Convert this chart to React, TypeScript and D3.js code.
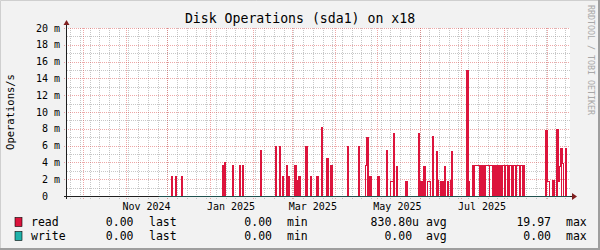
import React from "react";
import * as d3 from "d3";

const titleText = "Disk Operations (sda1) on x18";
const yAxisTitle = "Operations/s";
const watermark = "RRDTOOL / TOBI OETIKER";

const viewStart = "2024-09-19T16:00:00Z";
const viewEnd = "2025-09-17T12:00:00Z";
const writeStart = "2024-11-25T00:00:00Z";

const yTicks = [0, 2, 4, 6, 8, 10, 12, 14, 16, 18, 20];
const yTickLabels = ["0  ", "2 m", "4 m", "6 m", "8 m", "10 m", "12 m", "14 m", "16 m", "18 m", "20 m"];
const yMinorTicks = [1, 3, 5, 7, 9, 11, 13, 15, 17, 19];

const xTickMonths = ["2024-11-01", "2025-01-01", "2025-03-01", "2025-05-01", "2025-07-01"];
const xTickLabels = ["Nov 2024", "Jan 2025", "Mar 2025", "May 2025", "Jul 2025"];

// read operations per day, in milli-ops/s (avg = filled area, max = outline)
const readDays = [
  "2024-12-04", "2024-12-07", "2024-12-11",
  "2025-01-10", "2025-01-11", "2025-01-17", "2025-01-22", "2025-01-24",
  "2025-02-06", "2025-02-17", "2025-02-20", "2025-02-22", "2025-02-25", "2025-02-26",
  "2025-03-03", "2025-03-04", "2025-03-06", "2025-03-11", "2025-03-14", "2025-03-19",
  "2025-03-22", "2025-03-26", "2025-03-29",
  "2025-04-10", "2025-04-18", "2025-04-23", "2025-04-24", "2025-04-26",
  "2025-05-02", "2025-05-08", "2025-05-11", "2025-05-12", "2025-05-13", "2025-05-15",
  "2025-05-22", "2025-05-31",
  "2025-06-02", "2025-06-04", "2025-06-07", "2025-06-08", "2025-06-10", "2025-06-13",
  "2025-06-14", "2025-06-16", "2025-06-17", "2025-06-18", "2025-06-19", "2025-06-21",
  "2025-06-23", "2025-06-24",
  "2025-07-05", "2025-07-06",
  "2025-07-09", "2025-07-10", "2025-07-11", "2025-07-12", "2025-07-13", "2025-07-14",
  "2025-07-15", "2025-07-16", "2025-07-17", "2025-07-18", "2025-07-19", "2025-07-20",
  "2025-07-21", "2025-07-22", "2025-07-23", "2025-07-24", "2025-07-25", "2025-07-26",
  "2025-07-27", "2025-07-28", "2025-07-29", "2025-07-30", "2025-07-31",
  "2025-08-01", "2025-08-02", "2025-08-03", "2025-08-04", "2025-08-05", "2025-08-06",
  "2025-08-07", "2025-08-08", "2025-08-09", "2025-08-10", "2025-08-11", "2025-08-12",
  "2025-08-13", "2025-08-14", "2025-08-15",
  "2025-08-31", "2025-09-01", "2025-09-02", "2025-09-05", "2025-09-08", "2025-09-09",
  "2025-09-10", "2025-09-11", "2025-09-12", "2025-09-14",
];
const readAvg = [
  2.3, 2.3, 2.3,
  3.6, 4.0, 3.6, 3.6, 3.6,
  5.4, 5.85, 5.85, 2.3, 3.6, 2.3,
  3.6, 1.8, 2.3, 5.85, 2.3, 2.3,
  8.2, 4.5, 3.6,
  5.85, 5.85, 0, 7.0, 2.3,
  2.3, 5.4, 0, 0, 7.5, 3.46,
  1.67, 7.5,
  1.67, 3.46, 0, 0, 7.04, 5.25,
  1.8, 1.67, 1.67, 1.67, 3.46, 1.67,
  0, 5.25,
  15.0, 1.67,
  3.58, 3.58, 0, 0, 0, 3.58,
  3.58, 3.58, 3.58, 3.58, 0, 0,
  3.58, 0, 3.58, 3.58, 3.58, 3.58,
  3.58, 3.58, 3.58, 3.58, 0,
  3.58, 0, 3.58, 3.58, 0, 3.58,
  3.58, 0, 3.58, 0, 0, 3.58,
  0, 3.58, 3.58,
  7.76, 0, 0, 1.8, 7.9, 0,
  0, 5.6, 0, 5.6,
];
const readMax = [
  2.3, 2.3, 2.3,
  3.6, 4.0, 3.6, 3.6, 3.6,
  5.4, 5.85, 5.85, 2.3, 3.6, 2.3,
  3.6, 1.8, 2.3, 5.85, 2.3, 2.3,
  8.2, 4.5, 3.6,
  5.85, 5.85, 3.6, 7.0, 2.3,
  2.3, 5.4, 1.67, 1.67, 7.5, 3.46,
  1.67, 7.5,
  1.67, 3.46, 1.67, 1.67, 7.04, 5.25,
  1.8, 1.67, 1.67, 1.67, 3.46, 1.67,
  1.8, 5.25,
  15.0, 1.67,
  3.58, 3.58, 3.58, 3.58, 3.58, 3.58,
  3.58, 3.58, 3.58, 3.58, 3.58, 3.58,
  3.58, 3.58, 3.58, 3.58, 3.58, 3.58,
  3.58, 3.58, 3.58, 3.58, 3.58,
  3.58, 3.58, 3.58, 3.58, 3.58, 3.58,
  3.58, 3.58, 3.58, 3.58, 3.58, 3.58,
  3.58, 3.58, 3.58,
  7.76, 1.67, 1.67, 1.8, 7.9, 1.67,
  3.46, 5.6, 3.9, 5.6,
];

const legendNames = ["read", "write"];
const legendColors = ["#DC143C", "#20B2AA"];
const legendLast = ["0.00", "0.00"];
const legendMin = ["0.00", "0.00"];
const legendAvg = ["830.80u", "0.00 "];
const legendMax = ["19.97", "0.00"];

const FONT = "'DejaVu Sans Mono', monospace";

export default function App() {
  const left = 67, right = 570, top = 28, bottom = 196;
  const x = d3.scaleUtc().domain([new Date(viewStart), new Date(viewEnd)]).range([left, right]);
  const y = d3.scaleLinear().domain([0, 20]).range([bottom, top]);
  const day = (s: string) => new Date(s + "T00:00:00Z");

  const minorWeeks = d3.utcSunday.range(new Date(viewStart), new Date(viewEnd));
  const months = d3.utcMonth.range(new Date(viewStart), new Date(viewEnd));

  const maxMap = new Map<number, number>();
  readDays.forEach((d, i) => maxMap.set(+day(d), readMax[i]));
  const first = day(readDays[0]);
  const last = d3.utcDay.offset(day(readDays[readDays.length - 1]), 1);
  const allDays = d3.utcDay.range(d3.utcDay.offset(first, -1), d3.utcDay.offset(last, 1));
  const series = allDays.map((d) => ({ d, v: maxMap.get(+d) ?? 0 }));
  const line = d3
    .line<{ d: Date; v: number }>()
    .x((p) => x(p.d))
    .y((p) => y(p.v))
    .curve(d3.curveStepAfter);

  const legendY = [226, 240];
  const crisp = (v: number) => Math.round(v) + 0.5;
  const ws = x(new Date(writeStart));

  return (
    <svg
      width={600}
      height={250}
      style={{ position: "absolute", left: 0, top: 0, display: "block" }}
      fontFamily={FONT}
    >
      <rect x={0} y={0} width={600} height={250} fill="#F2F2F2" />
      <path d="M0.5,249 V0.5 H599" stroke="#CFCFCF" strokeWidth={1} fill="none" />
      <path d="M599,0 V250 M0,249 H600" stroke="#9E9E9E" strokeWidth={2} fill="none" />
      <rect x={left} y={top} width={right - left} height={bottom - top} fill="#FFFFFF" />

      {/* minor grid */}
      <g stroke="#8F8F8F" strokeOpacity={0.5} strokeDasharray="1,1" shapeRendering="crispEdges">
        {yMinorTicks.map((v) => (
          <line key={"hy" + v} x1={left} x2={right} y1={crisp(y(v))} y2={crisp(y(v))} />
        ))}
        {minorWeeks.map((d) => (
          <line key={"vx" + +d} x1={crisp(x(d))} x2={crisp(x(d))} y1={top} y2={bottom + 3} />
        ))}
      </g>
      {/* major grid */}
      <g stroke="#DE4F4F" strokeOpacity={0.5} strokeDasharray="1,1" shapeRendering="crispEdges">
        {yTicks.map((v) => (
          <line key={"my" + v} x1={left - 3} x2={right} y1={crisp(y(v))} y2={crisp(y(v))} />
        ))}
        {months.map((d) => (
          <line key={"mx" + +d} x1={crisp(x(d))} x2={crisp(x(d))} y1={top} y2={bottom + 3} />
        ))}
      </g>

      {/* read: filled average */}
      <g fill={legendColors[0]} shapeRendering="crispEdges">
        {readDays.map((d, i) =>
          readAvg[i] > 0 ? (
            <rect
              key={"r" + d}
              x={x(day(d))}
              y={y(readAvg[i])}
              width={x(d3.utcDay.offset(day(d), 1)) - x(day(d))}
              height={y(0) - y(readAvg[i])}
            />
          ) : null
        )}
      </g>
      {/* read: outline of max */}
      <path d={line(series) || ""} fill="none" stroke={legendColors[0]} strokeWidth={1} shapeRendering="crispEdges" />

      {/* write line at zero (drawn over the axis) */}
      <line x1={ws} x2={right} y1={bottom + 0.5} y2={bottom + 0.5} stroke="#1F1F1F" />
      <line x1={ws} x2={right} y1={bottom + 0.5} y2={bottom + 0.5} stroke={legendColors[1]} strokeOpacity={0.35} />

      {/* axes */}
      <line x1={left - 3} x2={ws} y1={bottom + 0.5} y2={bottom + 0.5} stroke="#1F1F1F" />
      <line x1={right} x2={573} y1={bottom + 0.5} y2={bottom + 0.5} stroke="#1F1F1F" />
      <line x1={left - 0.5} x2={left - 0.5} y1={bottom + 3} y2={23} stroke="#1F1F1F" />
      <polygon points={`572,193 577,196.5 572,200`} fill="#801F1F" />
      <polygon points={`63.5,25 66.5,20 69.5,25`} fill="#801F1F" />

      {/* y tick labels */}
      <g fontSize={10} fill="#000" textAnchor="end">
        {yTicks.map((v, i) => (
          <text key={"yl" + v} x={60} y={y(v) + 3.6} style={{ whiteSpace: "pre" }}>
            {yTickLabels[i]}
          </text>
        ))}
      </g>
      {/* x tick labels */}
      <g fontSize={10} fill="#000" textAnchor="middle">
        {xTickMonths.map((m, i) => (
          <text key={"xl" + m} x={x(d3.utcDay.offset(day(m), 15))} y={210}>
            {xTickLabels[i]}
          </text>
        ))}
      </g>

      <text x={300} y={23} fontSize={13.2} textAnchor="middle" fill="#000">
        {titleText}
      </text>
      <text
        transform={`translate(14,${(top + bottom) / 2}) rotate(-90)`}
        fontSize={10.5}
        textAnchor="middle"
        fill="#000"
      >
        {yAxisTitle}
      </text>
      <text
        transform={`translate(588,60) rotate(90)`}
        fontSize={8.3}
        textAnchor="middle"
        fill="#A8A8A8"
      >
        {watermark}
      </text>

      {/* legend */}
      <g fontSize={11.5} fill="#000">
        {legendNames.map((n, i) => (
          <g key={n}>
            <rect x={15} y={legendY[i] - 8.5} width={7} height={9} fill={legendColors[i]} stroke="#000" strokeWidth={0.6} />
            <text x={31} y={legendY[i]}>{n}</text>
            <text x={133.5} y={legendY[i]} textAnchor="end">{legendLast[i]}</text>
            <text x={149} y={legendY[i]}>last</text>
            <text x={272} y={legendY[i]} textAnchor="end">{legendMin[i]}</text>
            <text x={287} y={legendY[i]}>min</text>
            <text x={419} y={legendY[i]} textAnchor="end" style={{ whiteSpace: "pre" }}>{legendAvg[i]}</text>
            <text x={426} y={legendY[i]}>avg</text>
            <text x={551} y={legendY[i]} textAnchor="end">{legendMax[i]}</text>
            <text x={566} y={legendY[i]}>max</text>
          </g>
        ))}
      </g>
    </svg>
  );
}
